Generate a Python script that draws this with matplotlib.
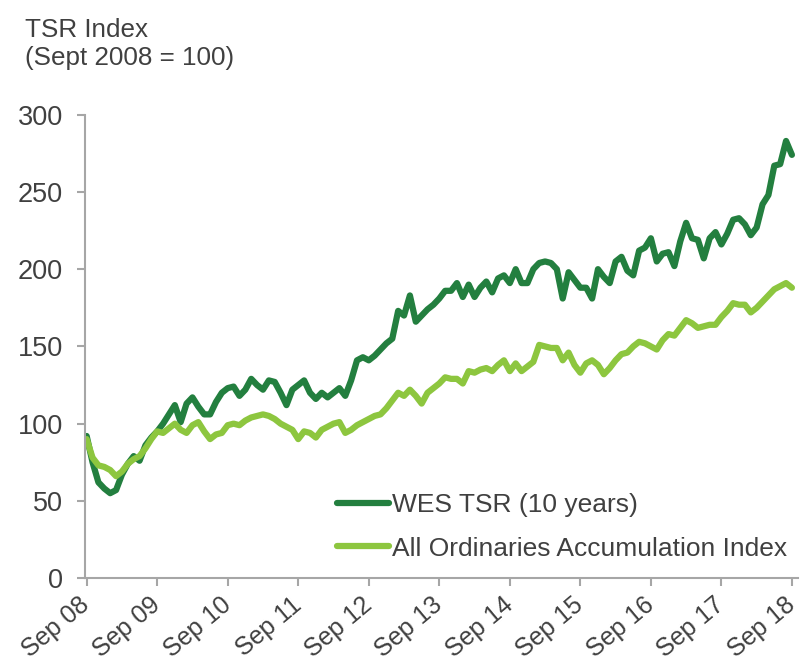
import numpy as np
import matplotlib.pyplot as plt

# monthly values, Sep 2008 .. Sep 2018
wes_tsr = [92, 75, 62, 58, 55, 57, 67, 74, 79, 76, 86, 91,
           95, 100, 106, 112, 101, 113, 117, 111, 106, 106, 114, 120,
           123, 124, 118, 122, 129, 125, 122, 128, 127, 120, 112, 122,
           125, 128, 120, 116, 120, 117, 120, 123, 118, 128, 141, 143,
           141, 144, 148, 152, 155, 173, 170, 183, 166, 170, 174, 177,
           181, 186, 186, 191, 182, 190, 182, 188, 192, 185, 194, 196,
           191, 200, 191, 191, 200, 204, 205, 204, 200, 181, 198, 193,
           188, 188, 181, 200, 195, 191, 205, 208, 199, 196, 212, 214,
           220, 205, 210, 211, 202, 218, 230, 220, 219, 207, 220, 224,
           216, 223, 232, 233, 229, 222, 227, 242, 248, 267, 268, 283,
           274]
all_ords = [90, 78, 73, 72, 70, 66, 69, 74, 77, 79, 84, 90,
            95, 94, 97, 100, 96, 94, 99, 101, 95, 90, 93, 94,
            99, 100, 99, 102, 104, 105, 106, 105, 103, 100, 98, 96,
            90, 95, 94, 91, 96, 98, 100, 101, 94, 96, 99, 101,
            103, 105, 106, 110, 115, 120, 118, 122, 118, 113, 120, 123,
            126, 130, 129, 129, 126, 134, 133, 135, 136, 134, 138, 141,
            134, 139, 134, 137, 140, 151, 150, 149, 149, 141, 146, 138,
            133, 139, 141, 138, 132, 136, 141, 145, 146, 150, 153, 152,
            150, 148, 154, 158, 157, 162, 167, 165, 162, 163, 164, 164,
            169, 173, 178, 177, 177, 172, 175, 179, 183, 187, 189, 191,
            188]
tick_labels = ["Sep 08", "Sep 09", "Sep 10", "Sep 11", "Sep 12", "Sep 13",
               "Sep 14", "Sep 15", "Sep 16", "Sep 17", "Sep 18"]

plt.rcParams['font.family'] = ['Liberation Sans', 'DejaVu Sans']
txt_col = '#404040'
axis_col = '#a6a6a6'

fig = plt.figure(figsize=(8.01, 6.63), dpi=100)
ax = fig.add_axes([0.106, 0.128, 0.890, 0.699])

months = np.arange(len(wes_tsr))
ax.plot(months, wes_tsr, color='#237f3f', lw=4.5, solid_joinstyle='round',
        solid_capstyle='round', label='WES TSR (10 years)')
ax.plot(months, all_ords, color='#8dc63f', lw=4.5, solid_joinstyle='round',
        solid_capstyle='round', label='All Ordinaries Accumulation Index')

ax.set_xlim(-0.3, 121)
ax.set_ylim(0, 300)
ax.set_yticks(range(0, 301, 50))
ax.set_xticks(range(0, 121, 12))
ax.set_xticklabels(tick_labels, rotation=40, ha='right', va='center',
                   rotation_mode='anchor')

for s in ['top', 'right']:
    ax.spines[s].set_visible(False)
for s in ['left', 'bottom']:
    ax.spines[s].set_color(axis_col)
    ax.spines[s].set_linewidth(1.5)
ax.tick_params(colors=axis_col, labelcolor=txt_col, labelsize=18,
               length=6, width=1.5, direction='out')
ax.tick_params(axis='x', pad=11)
ax.tick_params(axis='y', pad=10, labelsize=19.5)

fig.text(0.031, 0.973, "TSR Index\n(Sept 2008 = 100)", fontsize=18.7,
         color=txt_col, va='top', linespacing=1.2)

leg = ax.legend(loc='lower right', bbox_to_anchor=(1.0, 0.015), frameon=False,
                fontsize=19, handlelength=2.0, handletextpad=0.1,
                labelspacing=0.75, borderaxespad=0.0)
for t in leg.get_texts():
    t.set_color(txt_col)

fig.savefig('out.png', dpi=100)
